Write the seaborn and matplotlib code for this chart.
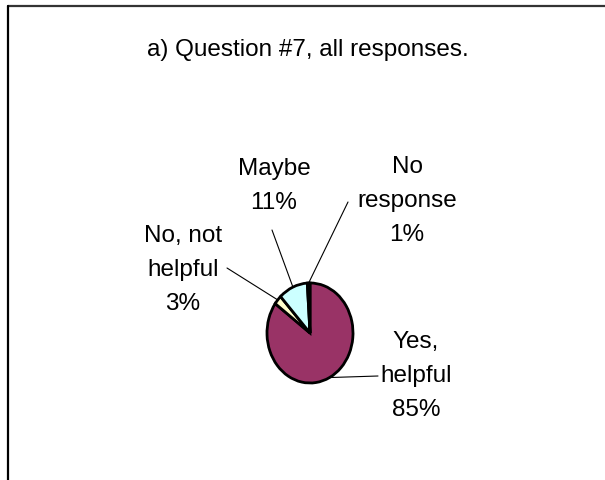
import matplotlib
matplotlib.use("Agg")
import matplotlib.pyplot as plt
import seaborn as sns
import numpy as np
from matplotlib.lines import Line2D

# ---- data ----
categories = ["Yes,\nhelpful", "No, not\nhelpful", "Maybe", "No\nresponse"]
values = [85, 3, 11, 1]
pct_labels = ["85%", "3%", "11%", "1%"]
title = "a) Question #7, all responses."
colors = ["#993366", "#FFFFCC", "#CCFFFF", "#1a1a1a"]

sns.set_theme(style="white")
plt.rcParams['font.family'] = ['Liberation Sans', 'Arial', 'DejaVu Sans']

W, H = 605, 480
fig = plt.figure(figsize=(W / 100, H / 100), dpi=100)
fig.patch.set_facecolor('white')

# pie geometry (pixels, from top-left)
cx, cy, rx, ry = 310, 333, 43, 50
ax = fig.add_axes([(cx - rx) / W, 1 - (cy + ry) / H, 2 * rx / W, 2 * ry / H])
wedges, _ = ax.pie(values, colors=colors, startangle=90, counterclock=False,
                   wedgeprops=dict(edgecolor='black', linewidth=2.0), radius=1)
for w in wedges:
    w.set_clip_on(False)
ax.set_aspect('auto')
ax.set_xlim(-1, 1)
ax.set_ylim(-1, 1)
ax.axis('off')

# labels and leader lines
label_pos = [(416, 376), (183, 270), (274, 186), (407, 201)]
line_ends = [(378, 376), (227, 268), (272, 230), (348, 202)]
for w, cat, pct, (lx, ly), (ex, ey) in zip(wedges, categories, pct_labels, label_pos, line_ends):
    mid = np.deg2rad((w.theta1 + w.theta2) / 2)
    ax.annotate("", xy=(np.cos(mid), np.sin(mid)), xycoords='data',
                xytext=(ex, H - ey), textcoords='figure pixels',
                arrowprops=dict(arrowstyle='-', color='black', lw=0.8,
                                shrinkA=0, shrinkB=0))
    fig.text(lx / W, 1 - ly / H, f"{cat}\n{pct}", ha='center', va='center',
             fontsize=17.5, color='black', linespacing=1.73)

fig.text(308 / W, 1 - 56 / H, title, ha='center', va='baseline', fontsize=17.5, color='black')

# frame lines (top and left)
fig.add_artist(Line2D([8 / W, 1], [1 - 6 / H, 1 - 6 / H], color='#333333', lw=1.6))
fig.add_artist(Line2D([8 / W, 8 / W], [0, 1 - 6 / H], color='black', lw=1.6))

fig.savefig("out.png", dpi=100)
